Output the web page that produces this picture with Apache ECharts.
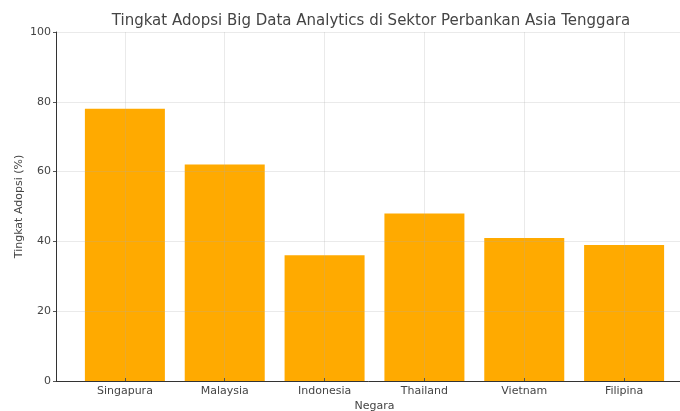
<!DOCTYPE html>
<html>
<head>
<meta charset="utf-8">
<script src="https://cdn.jsdelivr.net/npm/echarts@6/dist/echarts.min.js"></script>
<style>html,body{margin:0;padding:0;background:#fff}#c{width:680px;height:411px}</style>
</head>
<body>
<div id="c"></div>
<script>
const categories = ['Singapura', 'Malaysia', 'Indonesia', 'Thailand', 'Vietnam', 'Filipina'];
const adoption = [78, 62, 36, 48, 41, 39];
const yTicks = [0, 20, 40, 60, 80, 100];

const positions = categories.map((c, i) => i);
const chart = echarts.init(document.getElementById('c'), null, {renderer: 'canvas'});
const font = 'DejaVu Sans';
chart.setOption({
  animation: false,
  title: {
    text: 'Tingkat Adopsi Big Data Analytics di Sektor Perbankan Asia Tenggara',
    left: 366, top: 9, textAlign: 'center',
    textStyle: {fontFamily: font, fontSize: 15, fontWeight: 'normal', color: '#444'}
  },
  grid: {left: 56, right: -13, top: 32, bottom: 30, containLabel: false, outerBoundsMode: 'none'},
  xAxis: {
    type: 'value', min: -0.69, max: 5.69, z: 5,
    name: 'Negara', nameLocation: 'middle', nameGap: 20, nameMoveOverlap: false,
    nameTextStyle: {fontFamily: font, fontSize: 11, color: '#444'},
    axisLine: {show: true, onZero: false, lineStyle: {color: '#333', width: 1}},
    axisTick: {show: true, customValues: positions, length: 3, inside: true, lineStyle: {color: '#555'}},
    axisLabel: {customValues: positions, formatter: v => categories[Math.round(v)] || '',
      fontFamily: font, fontSize: 11, color: '#444', margin: 5},
    splitLine: {show: true, lineStyle: {color: 'rgba(170,170,170,0.25)', width: 1}}
  },
  yAxis: {
    type: 'value', min: 0, max: 100, interval: 20, z: 5,
    name: 'Tingkat Adopsi (%)', nameLocation: 'middle', nameGap: 31, nameMoveOverlap: false,
    nameTextStyle: {fontFamily: font, fontSize: 11, color: '#444'},
    axisLine: {show: true, onZero: false, lineStyle: {color: '#333', width: 1}},
    axisTick: {show: true, length: 3, lineStyle: {color: '#555'}},
    axisLabel: {fontFamily: font, fontSize: 11, color: '#444', margin: 5,
      formatter: v => yTicks.includes(v) ? String(v) : ''},
    splitLine: {show: true, lineStyle: {color: 'rgba(170,170,170,0.25)', width: 1}}
  },
  series: [{
    type: 'bar', z: 1,
    data: adoption.map((v, i) => [positions[i], v]),
    barWidth: 80,
    itemStyle: {color: '#FFAA00'}
  }]
});
</script>
</body>
</html>
